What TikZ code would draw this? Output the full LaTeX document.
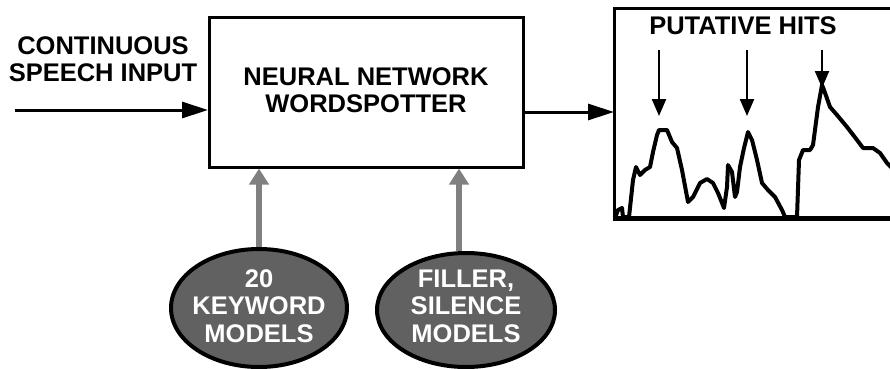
\documentclass[tikz,border=0pt]{standalone}
\usepackage{fontspec}
\setmainfont{Liberation Sans}
\usetikzlibrary{arrows.meta,shapes.geometric}
\tikzset{
  lbl/.style={font=\fontsize{25.5}{27.5}\selectfont\bfseries, align=center, inner sep=0pt},
  wlbl/.style={lbl, text=white},
  mainbox/.style={draw=black, line width=3pt, minimum width=314pt, minimum height=150pt, inner sep=0pt},
  modelell/.style={ellipse, draw=black, line width=4pt, fill=black!62, inner sep=0pt},
  blackarrow/.style={line width=3pt, -{Triangle[length=26pt,width=16pt]}},
  hitarrow/.style={line width=2.2pt, -{Triangle[length=17pt,width=14pt]}},
  grayarrow/.style={line width=5.5pt, draw=black!50, -{Triangle[length=16pt,width=19pt,fill=black!50]}},
  curve/.style={line width=4pt, line join=round}
}
\begin{document}
\begin{tikzpicture}[x=1pt,y=-1pt]
\useasboundingbox (0,0) rectangle (890,368);
% labels
\node[lbl] (inlbl) at (103,59) {CONTINUOUS\\SPEECH INPUT};
\node[mainbox] (box) at (366.5,92) {};
\node[lbl] (boxlbl) at (366,90) {NEURAL NETWORK\\WORDSPOTTER};
\coordinate (in) at (15,110);
\draw[blackarrow] (in) -- (in -| box.west);
% plot frame
\coordinate (plotw) at (614,112);
\coordinate (ptl) at (614,8);
\coordinate (pbl) at (614,218);
\coordinate (ptr) at (892,8);
\coordinate (pbr) at (892,218);
\draw[line width=3pt] (ptr) -- (ptl) -- (pbl);
\draw[line width=5pt] (612.5,218) -- (pbr);
\draw[blackarrow] (box.east |- plotw) -- (plotw);
\node[lbl] (hits) at (743,26) {PUTATIVE HITS};
% curve
\draw[curve] (615,218) -- (618,210) -- (622,208) -- (623,217) -- (629,217) -- (633,180) -- (636,167) -- (640,175) -- (645,170) -- (650,167) -- (653,152) -- (657,135) -- (659,130) -- (667,130) -- (672,142) -- (677,148) -- (682,170) -- (688,202) -- (693,197) -- (700,183) -- (707,179) -- (713,183) -- (718,193) -- (724,208) -- (727,187) -- (728,165) -- (732,172) -- (735,197) -- (737,192) -- (740,167) -- (744,148) -- (748,132) -- (752,140) -- (757,160) -- (762,183) -- (768,190) -- (775,197) -- (782,210) -- (785,217) -- (797,217) -- (799,160) -- (803,150) -- (810,150) -- (813,145) -- (818,107) -- (822,85) -- (824,90) -- (830,107) -- (837,115) -- (847,127) -- (857,140) -- (863,148) -- (873,148) -- (880,153) -- (887,163) -- (892,168);
% hit arrows
\coordinate (h1s) at (659,50); \coordinate (h1e) at (659,116);
\coordinate (h2s) at (747,50); \coordinate (h2e) at (747,116);
\coordinate (h3s) at (822,50); \coordinate (h3e) at (822,88);
\draw[hitarrow] (h1s) -- (h1e);
\draw[hitarrow] (h2s) -- (h2e);
\draw[hitarrow] (h3s) -- (h3e);
% model ellipses
\node[modelell, minimum width=176pt, minimum height=118pt] (kw) at (259,308) {};
\node[wlbl] (kwlbl) at (259,306) {20\\KEYWORD\\MODELS};
\node[modelell, minimum width=178pt, minimum height=114pt] (fil) at (466,310) {};
\node[wlbl] (fillbl) at (466,306) {FILLER,\\SILENCE\\MODELS};
\draw[grayarrow] (kw.north) -- (kw.north |- box.south);
\draw[grayarrow] ([xshift=-7pt]fil.north) -- ([xshift=-7pt]fil.north |- box.south);
\end{tikzpicture}
\end{document}
